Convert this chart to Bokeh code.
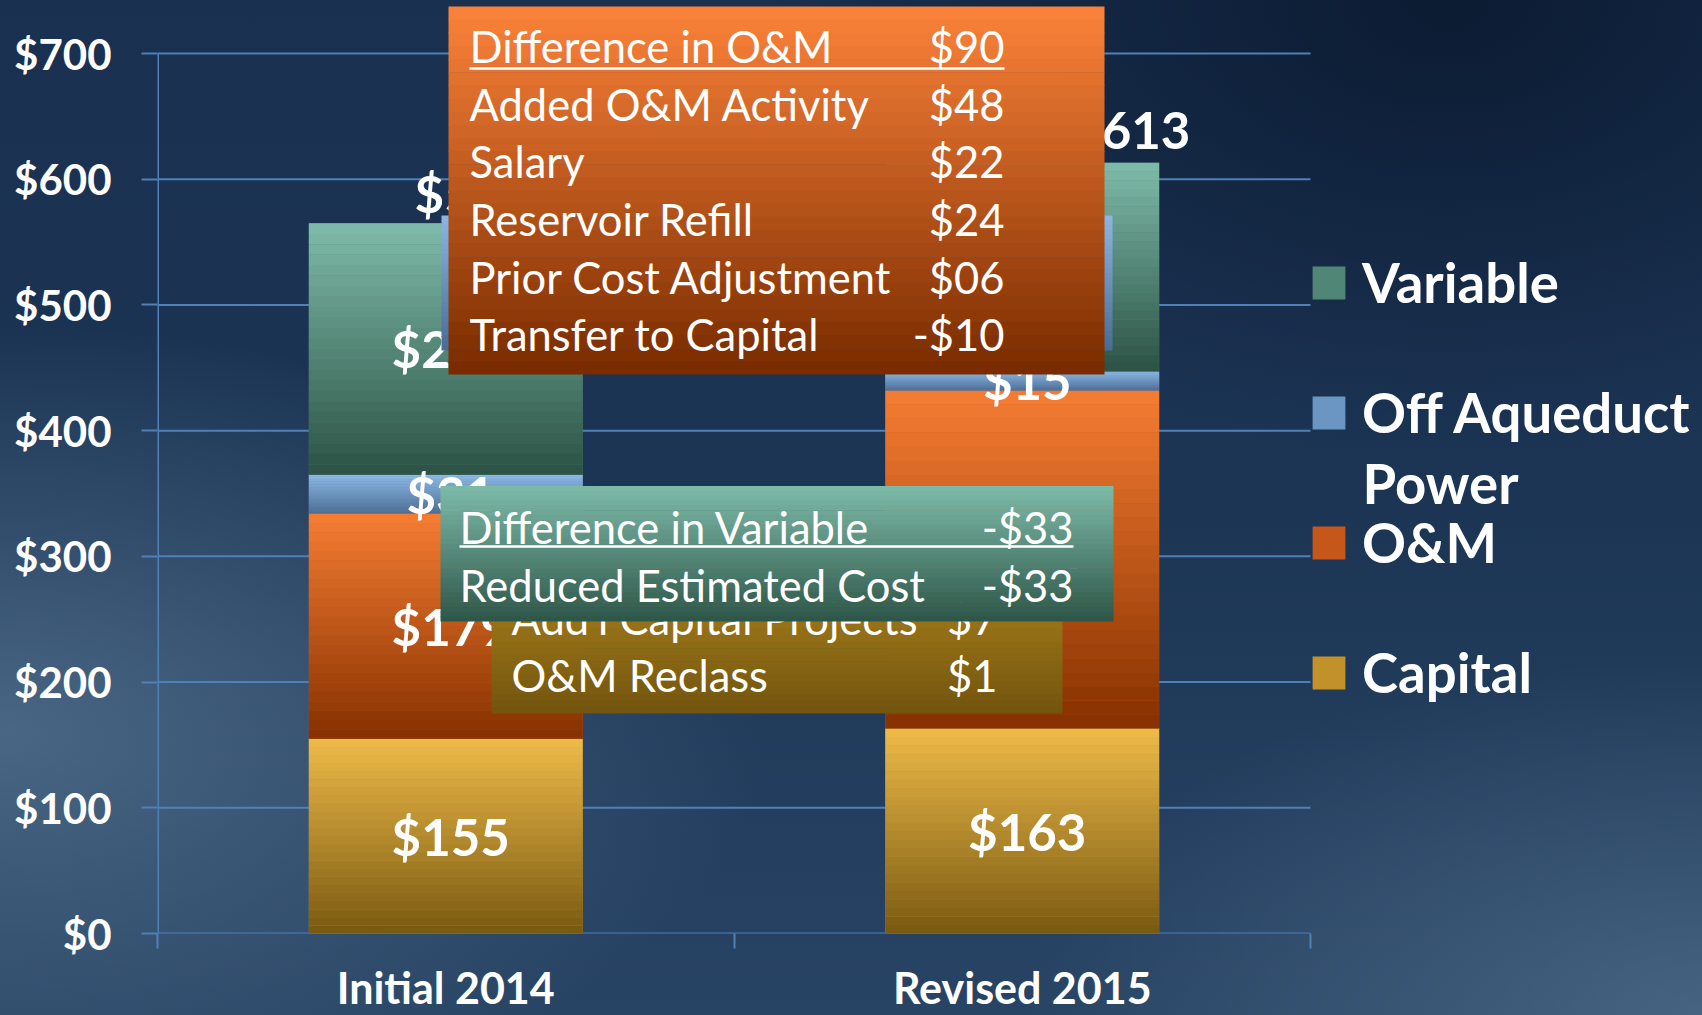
from bokeh.plotting import figure
from bokeh.models import (ColumnDataSource, FixedTicker, NumeralTickFormatter, Legend,
                          LegendItem, Label, BoxAnnotation, Range1d)
from bokeh.core.properties import value
from bokeh.embed import file_html
from bokeh.resources import INLINE

# ---------------- data ----------------
categories = ["Initial 2014", "Revised 2015"]
series = ["Capital", "O&M", "Off Aqueduct Power", "Variable"]
capital = [155, 163]
om = [179, 269]
off_aqueduct = [31, 15]
variable = [200, 166]
y_ticks = [0, 100, 200, 300, 400, 500, 600, 700]

om_box_items = ["Difference in O&M", "Added O&M Activity", "Salary", "Reservoir Refill",
                "Prior Cost Adjustment", "Transfer to Capital"]
om_box_values = ["$90", "$48", "$22", "$24", "$06", "-$10"]
var_box_items = ["Difference in Variable", "Reduced Estimated Cost"]
var_box_values = ["-$33", "-$33"]
cap_box_items = ["Add'l Capital Projects", "O&M Reclass"]
cap_box_values = ["$7", "$1"]

# ---------------- style ----------------
GRID = "#4f80b8"
colors = ["#c3912a", "#c5571b", "#6b95c2", "#4f8676"]
shade_top = ["#ecb947", "#f47b32", "#8cb8e4", "#7db9a8"]
shade_bot = ["#7b5b12", "#873200", "#4d6e95", "#2d5446"]
FONT = value("Lato")
PAGE_BG = ("radial-gradient(ellipse 40% 45% at 85% 0%, rgba(6,20,40,0.75), "
           "rgba(6,20,40,0) 100%), "
           "radial-gradient(ellipse 45% 40% at 0% 72%, rgba(95,125,155,0.65), "
           "rgba(95,125,155,0) 100%), "
           "radial-gradient(ellipse 40% 35% at 100% 100%, rgba(95,125,155,0.55), "
           "rgba(95,125,155,0) 100%), "
           "linear-gradient(180deg, #1a3050 0%, #1c3555 50%, #284464 100%)")

W, H = 1702, 1015
FR_L, X2, FR_T, FR_B = 157, 1310, 53, 933   # page pixels of x=0, x=2, y=700, y=0


def dx(px):
    return (px - FR_L) / ((X2 - FR_L) / len(categories))


def dy(py):
    return (FR_B - py) / ((FR_B - FR_T) / y_ticks[-1])


def mix(c1, c2, t):
    a = [int(c1[k:k + 2], 16) for k in (1, 3, 5)]
    b = [int(c2[k:k + 2], 16) for k in (1, 3, 5)]
    return "#%02x%02x%02x" % tuple(round(a[j] + (b[j] - a[j]) * t) for j in range(3))


p = figure(width=W, height=H, x_range=Range1d(0, dx(W)), y_range=Range1d(0, dy(0)),
           output_backend="svg", toolbar_location=None,
           min_border_left=FR_L, min_border_right=0, min_border_top=0,
           min_border_bottom=H - FR_B)
p.background_fill_color = None
p.border_fill_color = None
p.outline_line_color = None
p.xgrid.visible = False
p.ygrid.visible = False
for ax in p.axis:
    ax.axis_line_color = None
    ax.axis_line_alpha = 0
    ax.axis_line_width = 0

# y axis
p.yaxis.ticker = FixedTicker(ticks=y_ticks)
p.yaxis.formatter = NumeralTickFormatter(format="$0")
p.yaxis.major_tick_line_color = GRID
p.yaxis.major_tick_line_width = 2
p.yaxis.major_tick_out = 16
p.yaxis.major_tick_in = 0
p.yaxis.minor_tick_line_color = None
p.yaxis.major_label_text_color = "white"
p.yaxis.major_label_text_font = "Lato"
p.yaxis.major_label_text_font_style = "bold"
p.yaxis.major_label_text_font_size = "42px"
p.yaxis.major_label_standoff = 30

xs = [i + 0.5 for i in range(len(categories))]
bounds_x = list(range(len(categories) + 1))

# x axis: labels at category centres, short ticks at category boundaries
p.xaxis.ticker = FixedTicker(ticks=xs, minor_ticks=bounds_x)
p.xaxis.major_label_overrides = {x: c for x, c in zip(xs, categories)}
p.xaxis.minor_tick_line_color = GRID
p.xaxis.minor_tick_line_width = 2
p.xaxis.minor_tick_out = 0
p.xaxis.minor_tick_in = -15
p.xaxis.major_tick_line_color = None
p.xaxis.major_tick_out = 0
p.xaxis.major_tick_in = 0
p.xaxis.major_label_text_color = "white"
p.xaxis.major_label_text_font = "Lato"
p.xaxis.major_label_text_font_style = "bold"
p.xaxis.major_label_text_font_size = "43px"
p.xaxis.major_label_standoff = 28

# horizontal grid lines (the $0 one doubles as the x axis line) and the y axis line
p.segment(x0=[0] * len(y_ticks), x1=[len(categories)] * len(y_ticks), y0=y_ticks, y1=y_ticks,
          line_color=GRID, line_width=2, level="underlay")
p.segment(x0=[0], x1=[0], y0=[y_ticks[0]], y1=[y_ticks[-1]], line_color=GRID,
          line_width=3, level="underlay")

source = ColumnDataSource(dict(x=xs, **{"Capital": capital, "O&M": om,
                                        "Off Aqueduct Power": off_aqueduct,
                                        "Variable": variable}))
BAR_W = 0.475
rs = p.vbar_stack(series, x="x", width=BAR_W, color=colors, line_color=None, source=source)

# vertical shading of every stacked segment (light at top, dark at bottom)
N_SHADE = 24
gx, gb, gt, gc = [], [], [], []
seg_x, seg_y, seg_t = [], [], []
for i in range(len(categories)):
    bottom = 0
    for s, vals in enumerate((capital, om, off_aqueduct, variable)):
        v = vals[i]
        top = bottom + v
        h = v / N_SHADE
        for k in range(N_SHADE):
            gx.append(xs[i])
            gt.append(top - k * h)
            gb.append(max(bottom, top - (k + 1) * h - 0.15))
            gc.append(mix(shade_top[s], shade_bot[s], k / (N_SHADE - 1)))
        seg_x.append(xs[i])
        seg_y.append(bottom + v / 2)
        seg_t.append(f"${v}")
        bottom = top
p.vbar(x=gx, bottom=gb, top=gt, width=BAR_W, fill_color=gc, line_color=None)

p.text(x=seg_x, y=seg_y, text=seg_t, x_offset=5, text_font=FONT, text_font_style="bold",
       text_font_size="51px", text_color="white", text_align="center", text_baseline="middle")

totals = [capital[i] + om[i] + off_aqueduct[i] + variable[i] for i in range(len(categories))]
p.text(x=xs, y=totals, text=[f"${t}" for t in totals], x_offset=[28, 109], y_offset=[-30, -33],
       text_font=FONT, text_font_style="bold", text_font_size="51px", text_color="white",
       text_align="center", text_baseline="middle")


# ---------------- call-out boxes ----------------
def gradient_box(left, right, top, bottom, c_top, c_bot, n=28):
    h = (bottom - top) / n
    for k in range(n):
        t0 = top + k * h
        p.add_layout(BoxAnnotation(left=dx(left), right=dx(right), top=dy(t0),
                                   bottom=dy(min(t0 + h + 0.6, bottom)),
                                   fill_color=mix(c_top, c_bot, k / (n - 1)),
                                   fill_alpha=1, line_color=None))


def callout(box, c_top, c_bot, items, values, y0, pitch, tx, vx, underline=None):
    gradient_box(*box, c_top, c_bot)
    for k, (it, vl) in enumerate(zip(items, values)):
        yy = dy(y0 + k * pitch)
        p.add_layout(Label(x=dx(tx), y=yy, text=it, text_font="Lato", text_font_size="43.5px",
                           text_color="white", text_align="left", text_baseline="middle"))
        p.add_layout(Label(x=dx(vx), y=yy, text=vl, text_font="Lato", text_font_size="43.5px",
                           text_color="white", text_align="right", text_baseline="middle"))
    if underline is not None:
        p.add_layout(BoxAnnotation(left=dx(tx), right=dx(vx), top=dy(underline - 1.3),
                                   bottom=dy(underline + 1.3), fill_color="white",
                                   fill_alpha=1, line_color=None))


callout((491, 1062, 530, 713), "#b99022", "#73550e", cap_box_items, cap_box_values,
        617, 57.5, 511, 997)
callout((440, 1113, 485.5, 621), "#7db9a7", "#2e574a", var_box_items, var_box_values,
        526, 58, 459, 1073, underline=546)
gradient_box(441, 1112, 215, 350, "#8ab5e0", "#4a6d94")
callout((448, 1104, 6, 374), "#fa8139", "#7a2c00", om_box_items, om_box_values,
        45.6, 57.6, 469, 1004, underline=68)

# ---------------- legend ----------------
items = [LegendItem(label="Variable", renderers=[rs[3]]),
         LegendItem(label="Off Aqueduct", renderers=[rs[2]]),
         LegendItem(label="O&M", renderers=[rs[1]]),
         LegendItem(label="Capital", renderers=[rs[0]])]
legend = Legend(items=items, location=(1151, 228), orientation="vertical",
                background_fill_alpha=0, border_line_color=None, padding=0, margin=0,
                glyph_width=41, glyph_height=41, label_standoff=13, spacing=64,
                label_text_font="Lato", label_text_font_size="54.5px",
                label_text_font_style="bold", label_text_color="white")
p.add_layout(legend)
p.add_layout(Label(x=dx(1362), y=dy(482.5), text="Power", text_font="Lato",
                   text_font_size="54.5px", text_font_style="bold", text_color="white",
                   text_align="left", text_baseline="middle"))

html = file_html(p, INLINE)
html = html.replace("</head>", "<style>html, body { background: %s; background-color: #1b3353; }"
                    "</style></head>" % PAGE_BG, 1)
open("out.html", "w").write(html)
